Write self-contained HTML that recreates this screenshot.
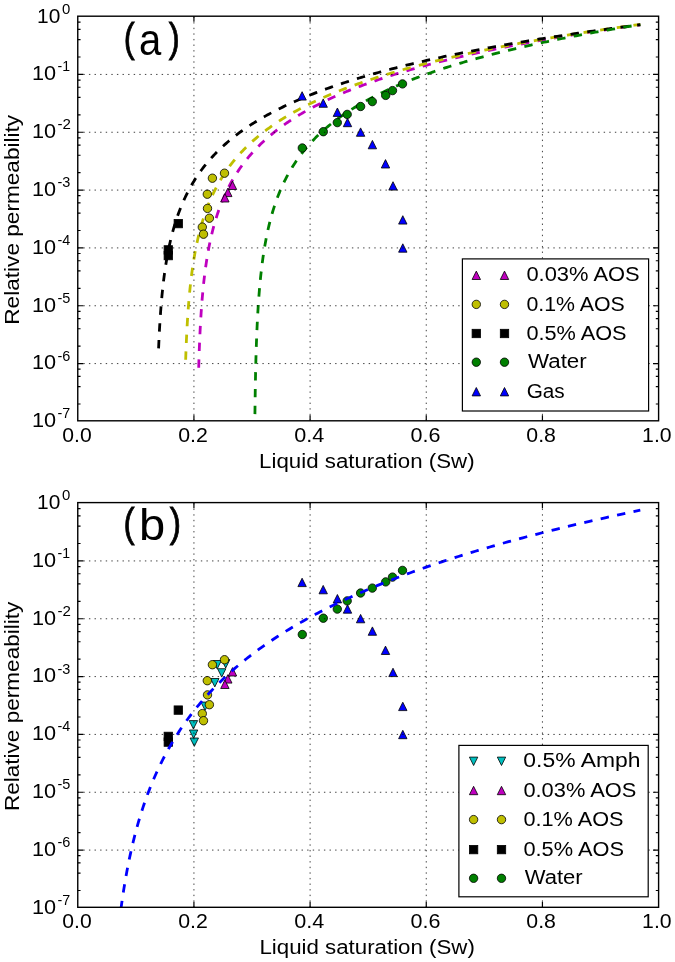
<!DOCTYPE html>
<html><head><meta charset="utf-8"><style>
html,body{margin:0;padding:0;background:#fff;width:675px;height:962px;overflow:hidden}
svg{display:block;will-change:transform;filter:blur(0.35px)}
text{font-family:"Liberation Sans",sans-serif;fill:#000}
</style></head><body>
<svg width="675" height="962" viewBox="0 0 675 962">
<rect width="675" height="962" fill="#fff"/>
<defs><clipPath id="ca"><rect x="77.76" y="16.2" width="580.84" height="404.6"/></clipPath><clipPath id="cb"><rect x="77.76" y="502.6" width="580.84" height="404.7"/></clipPath></defs>
<g clip-path="url(#ca)">
<path d="M198.72,367.8 L198.72,367.62 L198.73,367.08 L198.76,366.19 L198.79,364.96 L198.84,363.42 L198.89,361.59 L198.96,359.5 L199.03,357.16 L199.12,354.62 L199.21,351.9 L199.31,349.02 L199.43,346.02 L199.55,342.92 L199.68,339.73 L199.83,336.49 L199.98,333.2 L200.14,329.88 L200.32,326.54 L200.5,323.2 L200.69,319.87 L200.89,316.55 L201.11,313.25 L201.33,309.97 L201.56,306.73 L201.8,303.52 L202.05,300.35 L202.32,297.22 L202.59,294.13 L202.87,291.09 L203.16,288.09 L203.46,285.13 L203.77,282.22 L204.09,279.36 L204.43,276.54 L204.77,273.76 L205.12,271.03 L205.48,268.35 L205.85,265.7 L206.23,263.1 L206.62,260.54 L207.02,258.03 L207.43,255.55 L207.85,253.12 L208.28,250.72 L208.72,248.36 L209.17,246.03 L209.63,243.75 L210.1,241.5 L210.57,239.28 L211.06,237.1 L211.56,234.95 L212.07,232.83 L212.59,230.75 L213.12,228.69 L213.66,226.66 L214.21,224.67 L214.76,222.7 L215.33,220.76 L215.91,218.85 L216.5,216.96 L217.09,215.1 L217.7,213.27 L218.32,211.45 L218.95,209.67 L219.58,207.91 L220.23,206.17 L220.89,204.45 L221.55,202.75 L222.23,201.08 L222.92,199.42 L223.61,197.79 L224.32,196.18 L225.04,194.58 L225.76,193.01 L226.5,191.45 L227.25,189.92 L228,188.4 L228.77,186.89 L229.54,185.41 L230.33,183.94 L231.12,182.49 L231.93,181.05 L232.74,179.63 L233.57,178.23 L234.4,176.84 L235.25,175.47 L236.1,174.11 L236.97,172.76 L237.84,171.43 L238.72,170.11 L239.62,168.8 L240.52,167.51 L241.44,166.23 L242.36,164.97 L243.29,163.71 L244.24,162.47 L245.19,161.24 L246.15,160.02 L247.13,158.82 L248.11,157.62 L249.1,156.44 L250.1,155.27 L251.12,154.1 L252.14,152.95 L253.17,151.81 L254.21,150.68 L255.27,149.56 L256.33,148.45 L257.4,147.34 L258.48,146.25 L259.57,145.17 L260.68,144.1 L261.79,143.03 L262.91,141.98 L264.04,140.93 L265.18,139.89 L266.33,138.86 L267.49,137.84 L268.66,136.82 L269.84,135.82 L271.03,134.82 L272.23,133.83 L273.44,132.85 L274.66,131.88 L275.89,130.91 L277.13,129.95 L278.38,129 L279.64,128.05 L280.91,127.12 L282.19,126.19 L283.48,125.26 L284.78,124.34 L286.09,123.43 L287.41,122.53 L288.74,121.63 L290.07,120.74 L291.42,119.86 L292.78,118.98 L294.15,118.11 L295.53,117.24 L296.92,116.38 L298.31,115.52 L299.72,114.67 L301.14,113.83 L302.57,112.99 L304,112.16 L305.45,111.34 L306.91,110.51 L308.37,109.7 L309.85,108.89 L311.34,108.08 L312.84,107.28 L314.34,106.49 L315.86,105.7 L317.38,104.91 L318.92,104.13 L320.47,103.36 L322.02,102.59 L323.59,101.82 L325.16,101.06 L326.75,100.31 L328.35,99.55 L329.95,98.81 L331.57,98.06 L333.19,97.33 L334.83,96.59 L336.47,95.86 L338.13,95.14 L339.79,94.42 L341.46,93.7 L343.15,92.99 L344.84,92.28 L346.55,91.57 L348.26,90.87 L349.98,90.17 L351.72,89.48 L353.46,88.79 L355.22,88.11 L356.98,87.42 L358.75,86.75 L360.54,86.07 L362.33,85.4 L364.13,84.73 L365.94,84.07 L367.77,83.41 L369.6,82.75 L371.44,82.1 L373.29,81.45 L375.16,80.81 L377.03,80.16 L378.91,79.52 L380.8,78.89 L382.7,78.25 L384.61,77.62 L386.54,77 L388.47,76.37 L390.41,75.75 L392.36,75.14 L394.32,74.52 L396.29,73.91 L398.27,73.3 L400.26,72.7 L402.26,72.09 L404.27,71.49 L406.29,70.9 L408.32,70.3 L410.36,69.71 L412.41,69.13 L414.47,68.54 L416.54,67.96 L418.62,67.38 L420.71,66.8 L422.81,66.23 L424.92,65.65 L427.04,65.09 L429.17,64.52 L431.31,63.96 L433.46,63.39 L435.61,62.84 L437.78,62.28 L439.96,61.72 L442.15,61.17 L444.35,60.62 L446.56,60.08 L448.77,59.53 L451,58.99 L453.24,58.45 L455.49,57.92 L457.74,57.38 L460.01,56.85 L462.29,56.32 L464.57,55.79 L466.87,55.26 L469.18,54.74 L471.49,54.22 L473.82,53.7 L476.16,53.18 L478.5,52.67 L480.86,52.16 L483.23,51.65 L485.6,51.14 L487.99,50.63 L490.38,50.13 L492.79,49.63 L495.2,49.13 L497.63,48.63 L500.06,48.13 L502.51,47.64 L504.96,47.14 L507.43,46.65 L509.9,46.17 L512.39,45.68 L514.88,45.2 L517.39,44.71 L519.9,44.23 L522.42,43.75 L524.96,43.28 L527.5,42.8 L530.06,42.33 L532.62,41.86 L535.19,41.39 L537.78,40.92 L540.37,40.45 L542.97,39.99 L545.59,39.52 L548.21,39.06 L550.84,38.6 L553.48,38.15 L556.14,37.69 L558.8,37.24 L561.47,36.78 L564.15,36.33 L566.84,35.88 L569.55,35.44 L572.26,34.99 L574.98,34.55 L577.71,34.1 L580.45,33.66 L583.2,33.22 L585.97,32.78 L588.74,32.35 L591.52,31.91 L594.31,31.48 L597.11,31.05 L599.92,30.62 L602.74,30.19 L605.57,29.76 L608.41,29.33 L611.26,28.91 L614.12,28.49 L616.99,28.07 L619.87,27.65 L622.76,27.23 L625.66,26.81 L628.57,26.39 L631.49,25.98 L634.42,25.57 L637.35,25.15 L640.3,24.74" fill="none" stroke="#bf00bf" stroke-width="2.8" stroke-dasharray="8.4 8.4"/>
<path d="M185.67,359.8 L185.67,359.64 L185.69,359.18 L185.71,358.4 L185.75,357.34 L185.8,356 L185.85,354.4 L185.92,352.56 L185.99,350.5 L186.08,348.25 L186.18,345.83 L186.28,343.25 L186.4,340.56 L186.53,337.75 L186.67,334.86 L186.81,331.89 L186.97,328.87 L187.14,325.81 L187.32,322.73 L187.5,319.62 L187.7,316.51 L187.91,313.4 L188.13,310.3 L188.36,307.21 L188.6,304.14 L188.85,301.09 L189.11,298.08 L189.38,295.09 L189.66,292.14 L189.95,289.22 L190.25,286.33 L190.56,283.49 L190.88,280.68 L191.21,277.91 L191.55,275.18 L191.9,272.49 L192.26,269.84 L192.63,267.22 L193.01,264.65 L193.4,262.11 L193.81,259.62 L194.22,257.16 L194.64,254.73 L195.07,252.35 L195.51,250 L195.97,247.68 L196.43,245.4 L196.9,243.15 L197.39,240.94 L197.88,238.75 L198.38,236.6 L198.9,234.48 L199.42,232.39 L199.95,230.33 L200.5,228.3 L201.05,226.3 L201.62,224.33 L202.19,222.38 L202.78,220.46 L203.37,218.57 L203.98,216.7 L204.59,214.85 L205.22,213.03 L205.85,211.24 L206.5,209.46 L207.15,207.71 L207.82,205.99 L208.5,204.28 L209.18,202.59 L209.88,200.93 L210.59,199.29 L211.3,197.66 L212.03,196.06 L212.77,194.47 L213.52,192.91 L214.27,191.36 L215.04,189.83 L215.82,188.31 L216.61,186.82 L217.41,185.34 L218.21,183.87 L219.03,182.43 L219.86,180.99 L220.7,179.58 L221.55,178.18 L222.41,176.79 L223.28,175.42 L224.16,174.06 L225.05,172.72 L225.95,171.39 L226.86,170.07 L227.78,168.77 L228.71,167.48 L229.65,166.2 L230.6,164.94 L231.56,163.69 L232.54,162.45 L233.52,161.22 L234.51,160 L235.51,158.8 L236.52,157.6 L237.54,156.42 L238.58,155.25 L239.62,154.08 L240.67,152.93 L241.73,151.79 L242.81,150.66 L243.89,149.54 L244.98,148.43 L246.09,147.32 L247.2,146.23 L248.33,145.15 L249.46,144.07 L250.6,143.01 L251.76,141.95 L252.92,140.9 L254.1,139.86 L255.28,138.83 L256.48,137.81 L257.68,136.8 L258.9,135.79 L260.12,134.79 L261.36,133.8 L262.6,132.82 L263.86,131.84 L265.13,130.88 L266.4,129.91 L267.69,128.96 L268.99,128.01 L270.29,127.08 L271.61,126.14 L272.94,125.22 L274.28,124.3 L275.62,123.39 L276.98,122.48 L278.35,121.58 L279.73,120.69 L281.12,119.8 L282.51,118.92 L283.92,118.05 L285.34,117.18 L286.77,116.32 L288.21,115.46 L289.66,114.61 L291.12,113.76 L292.59,112.93 L294.07,112.09 L295.56,111.26 L297.06,110.44 L298.57,109.62 L300.09,108.81 L301.62,108 L303.16,107.2 L304.71,106.4 L306.27,105.61 L307.84,104.83 L309.43,104.04 L311.02,103.27 L312.62,102.49 L314.23,101.73 L315.85,100.96 L317.49,100.21 L319.13,99.45 L320.78,98.7 L322.44,97.96 L324.12,97.22 L325.8,96.48 L327.49,95.75 L329.2,95.02 L330.91,94.3 L332.64,93.58 L334.37,92.86 L336.11,92.15 L337.87,91.45 L339.63,90.74 L341.41,90.04 L343.19,89.35 L344.99,88.66 L346.79,87.97 L348.61,87.29 L350.43,86.61 L352.27,85.93 L354.12,85.26 L355.97,84.59 L357.84,83.92 L359.71,83.26 L361.6,82.6 L363.5,81.95 L365.41,81.29 L367.32,80.65 L369.25,80 L371.19,79.36 L373.13,78.72 L375.09,78.09 L377.06,77.45 L379.04,76.82 L381.03,76.2 L383.03,75.58 L385.03,74.96 L387.05,74.34 L389.08,73.73 L391.12,73.12 L393.17,72.51 L395.23,71.9 L397.3,71.3 L399.38,70.7 L401.47,70.11 L403.57,69.52 L405.68,68.93 L407.8,68.34 L409.93,67.75 L412.07,67.17 L414.22,66.59 L416.39,66.02 L418.56,65.44 L420.74,64.87 L422.93,64.3 L425.13,63.74 L427.34,63.17 L429.57,62.61 L431.8,62.05 L434.04,61.5 L436.29,60.94 L438.56,60.39 L440.83,59.84 L443.11,59.3 L445.41,58.75 L447.71,58.21 L450.03,57.67 L452.35,57.14 L454.68,56.6 L457.03,56.07 L459.38,55.54 L461.75,55.01 L464.12,54.49 L466.51,53.96 L468.9,53.44 L471.31,52.92 L473.72,52.41 L476.15,51.89 L478.58,51.38 L481.03,50.87 L483.49,50.36 L485.95,49.86 L488.43,49.35 L490.92,48.85 L493.41,48.35 L495.92,47.85 L498.44,47.36 L500.97,46.86 L503.5,46.37 L506.05,45.88 L508.61,45.39 L511.18,44.9 L513.75,44.42 L516.34,43.94 L518.94,43.46 L521.55,42.98 L524.17,42.5 L526.8,42.03 L529.44,41.55 L532.09,41.08 L534.75,40.61 L537.42,40.14 L540.1,39.68 L542.79,39.21 L545.49,38.75 L548.2,38.29 L550.92,37.83 L553.65,37.37 L556.39,36.91 L559.14,36.46 L561.9,36.01 L564.67,35.56 L567.46,35.11 L570.25,34.66 L573.05,34.21 L575.86,33.77 L578.68,33.32 L581.52,32.88 L584.36,32.44 L587.21,32 L590.08,31.57 L592.95,31.13 L595.83,30.7 L598.73,30.27 L601.63,29.84 L604.54,29.41 L607.47,28.98 L610.4,28.55 L613.35,28.13 L616.3,27.7 L619.27,27.28 L622.24,26.86 L625.23,26.44 L628.22,26.02 L631.23,25.61 L634.24,25.19 L637.27,24.78 L640.3,24.37" fill="none" stroke="#bfbf00" stroke-width="2.8" stroke-dasharray="8.4 8.4"/>
<path d="M158.59,348.4 L158.6,348.27 L158.61,347.87 L158.64,347.21 L158.68,346.3 L158.73,345.15 L158.79,343.78 L158.86,342.19 L158.94,340.41 L159.03,338.45 L159.13,336.33 L159.25,334.07 L159.37,331.69 L159.5,329.2 L159.65,326.62 L159.81,323.96 L159.97,321.25 L160.15,318.48 L160.34,315.68 L160.54,312.85 L160.75,310 L160.97,307.14 L161.2,304.28 L161.44,301.43 L161.7,298.58 L161.96,295.74 L162.24,292.92 L162.52,290.12 L162.82,287.35 L163.12,284.6 L163.44,281.88 L163.77,279.19 L164.11,276.52 L164.46,273.89 L164.82,271.3 L165.19,268.73 L165.58,266.2 L165.97,263.7 L166.37,261.23 L166.79,258.8 L167.21,256.4 L167.65,254.03 L168.1,251.7 L168.56,249.4 L169.02,247.13 L169.5,244.89 L169.99,242.68 L170.5,240.51 L171.01,238.36 L171.53,236.25 L172.06,234.16 L172.61,232.1 L173.16,230.07 L173.73,228.07 L174.31,226.09 L174.89,224.14 L175.49,222.22 L176.1,220.32 L176.72,218.44 L177.35,216.59 L177.99,214.77 L178.64,212.97 L179.31,211.19 L179.98,209.43 L180.66,207.7 L181.36,205.98 L182.06,204.29 L182.78,202.62 L183.51,200.97 L184.25,199.34 L185,197.72 L185.76,196.13 L186.53,194.56 L187.31,193 L188.1,191.46 L188.9,189.94 L189.72,188.44 L190.54,186.95 L191.38,185.48 L192.22,184.02 L193.08,182.58 L193.95,181.16 L194.82,179.75 L195.71,178.36 L196.61,176.98 L197.52,175.62 L198.44,174.27 L199.38,172.93 L200.32,171.61 L201.27,170.3 L202.24,169 L203.21,167.72 L204.2,166.44 L205.2,165.19 L206.2,163.94 L207.22,162.7 L208.25,161.48 L209.29,160.27 L210.34,159.07 L211.4,157.88 L212.48,156.7 L213.56,155.53 L214.65,154.37 L215.76,153.23 L216.87,152.09 L218,150.96 L219.14,149.85 L220.28,148.74 L221.44,147.64 L222.61,146.55 L223.79,145.47 L224.98,144.4 L226.18,143.34 L227.4,142.29 L228.62,141.25 L229.85,140.21 L231.1,139.18 L232.35,138.16 L233.62,137.15 L234.9,136.15 L236.18,135.16 L237.48,134.17 L238.79,133.19 L240.11,132.22 L241.44,131.25 L242.78,130.3 L244.14,129.35 L245.5,128.4 L246.87,127.47 L248.26,126.54 L249.65,125.62 L251.06,124.7 L252.48,123.79 L253.91,122.89 L255.34,121.99 L256.79,121.1 L258.25,120.22 L259.72,119.34 L261.21,118.47 L262.7,117.6 L264.2,116.75 L265.72,115.89 L267.24,115.04 L268.78,114.2 L270.32,113.37 L271.88,112.53 L273.45,111.71 L275.03,110.89 L276.62,110.07 L278.22,109.26 L279.83,108.46 L281.45,107.66 L283.08,106.87 L284.73,106.08 L286.38,105.29 L288.04,104.51 L289.72,103.74 L291.41,102.97 L293.1,102.21 L294.81,101.44 L296.53,100.69 L298.26,99.94 L300,99.19 L301.75,98.45 L303.51,97.71 L305.29,96.98 L307.07,96.25 L308.86,95.52 L310.67,94.8 L312.49,94.09 L314.31,93.37 L316.15,92.66 L318,91.96 L319.86,91.26 L321.73,90.56 L323.61,89.87 L325.5,89.18 L327.4,88.5 L329.31,87.81 L331.24,87.14 L333.17,86.46 L335.12,85.79 L337.07,85.13 L339.04,84.46 L341.02,83.8 L343,83.15 L345,82.49 L347.01,81.84 L349.03,81.2 L351.07,80.56 L353.11,79.92 L355.16,79.28 L357.22,78.65 L359.3,78.02 L361.38,77.39 L363.48,76.77 L365.59,76.15 L367.7,75.53 L369.83,74.92 L371.97,74.3 L374.12,73.7 L376.28,73.09 L378.45,72.49 L380.64,71.89 L382.83,71.29 L385.03,70.7 L387.25,70.11 L389.47,69.52 L391.71,68.94 L393.96,68.35 L396.21,67.77 L398.48,67.2 L400.76,66.62 L403.05,66.05 L405.35,65.48 L407.66,64.92 L409.99,64.35 L412.32,63.79 L414.66,63.23 L417.02,62.68 L419.38,62.12 L421.76,61.57 L424.15,61.02 L426.54,60.48 L428.95,59.93 L431.37,59.39 L433.8,58.85 L436.24,58.31 L438.69,57.78 L441.16,57.25 L443.63,56.72 L446.11,56.19 L448.61,55.66 L451.11,55.14 L453.63,54.62 L456.16,54.1 L458.69,53.58 L461.24,53.07 L463.8,52.56 L466.37,52.04 L468.95,51.54 L471.55,51.03 L474.15,50.53 L476.76,50.02 L479.39,49.52 L482.02,49.03 L484.67,48.53 L487.32,48.04 L489.99,47.54 L492.67,47.05 L495.36,46.56 L498.06,46.08 L500.77,45.59 L503.49,45.11 L506.22,44.63 L508.96,44.15 L511.71,43.68 L514.48,43.2 L517.25,42.73 L520.04,42.26 L522.84,41.79 L525.64,41.32 L528.46,40.85 L531.29,40.39 L534.13,39.92 L536.98,39.46 L539.84,39 L542.71,38.55 L545.6,38.09 L548.49,37.64 L551.39,37.18 L554.31,36.73 L557.23,36.28 L560.17,35.84 L563.12,35.39 L566.08,34.95 L569.04,34.5 L572.02,34.06 L575.01,33.62 L578.02,33.19 L581.03,32.75 L584.05,32.31 L587.08,31.88 L590.13,31.45 L593.18,31.02 L596.25,30.59 L599.33,30.16 L602.41,29.74 L605.51,29.31 L608.62,28.89 L611.74,28.47 L614.87,28.05 L618.01,27.63 L621.16,27.21 L624.33,26.79 L627.5,26.38 L630.69,25.97 L633.88,25.56 L637.09,25.14 L640.3,24.74" fill="none" stroke="#000000" stroke-width="2.8" stroke-dasharray="8.4 8.4"/>
<path d="M254.93,414.1 L254.94,413.71 L254.95,412.57 L254.97,410.72 L255,408.21 L255.04,405.12 L255.09,401.56 L255.15,397.59 L255.21,393.31 L255.28,388.79 L255.37,384.11 L255.46,379.32 L255.55,374.46 L255.66,369.59 L255.78,364.73 L255.9,359.9 L256.04,355.12 L256.18,350.42 L256.33,345.79 L256.49,341.26 L256.66,336.81 L256.84,332.46 L257.02,328.2 L257.21,324.04 L257.42,319.98 L257.63,316.01 L257.85,312.13 L258.08,308.35 L258.31,304.65 L258.56,301.04 L258.81,297.52 L259.08,294.08 L259.35,290.71 L259.63,287.42 L259.92,284.2 L260.21,281.06 L260.52,277.98 L260.84,274.97 L261.16,272.03 L261.49,269.14 L261.83,266.31 L262.18,263.55 L262.54,260.83 L262.9,258.17 L263.28,255.56 L263.66,253 L264.06,250.49 L264.46,248.03 L264.87,245.61 L265.28,243.24 L265.71,240.9 L266.15,238.61 L266.59,236.36 L267.04,234.14 L267.5,231.96 L267.97,229.82 L268.45,227.71 L268.94,225.64 L269.43,223.6 L269.94,221.59 L270.45,219.61 L270.97,217.66 L271.5,215.74 L272.04,213.85 L272.59,211.99 L273.15,210.15 L273.71,208.34 L274.28,206.55 L274.87,204.79 L275.46,203.06 L276.06,201.34 L276.66,199.65 L277.28,197.98 L277.91,196.34 L278.54,194.71 L279.18,193.11 L279.83,191.52 L280.49,189.96 L281.16,188.41 L281.84,186.88 L282.52,185.37 L283.22,183.88 L283.92,182.41 L284.63,180.95 L285.35,179.51 L286.08,178.09 L286.82,176.68 L287.56,175.29 L288.32,173.91 L289.08,172.55 L289.85,171.2 L290.63,169.87 L291.42,168.55 L292.22,167.24 L293.02,165.95 L293.84,164.67 L294.66,163.4 L295.49,162.15 L296.33,160.91 L297.18,159.68 L298.04,158.46 L298.91,157.26 L299.78,156.07 L300.66,154.88 L301.56,153.71 L302.46,152.55 L303.37,151.4 L304.29,150.26 L305.21,149.14 L306.15,148.02 L307.09,146.91 L308.04,145.81 L309.01,144.72 L309.98,143.64 L310.95,142.57 L311.94,141.51 L312.94,140.46 L313.94,139.41 L314.95,138.38 L315.98,137.35 L317.01,136.33 L318.05,135.32 L319.09,134.32 L320.15,133.33 L321.21,132.34 L322.29,131.36 L323.37,130.39 L324.46,129.43 L325.56,128.48 L326.67,127.53 L327.78,126.59 L328.91,125.65 L330.04,124.73 L331.18,123.81 L332.33,122.89 L333.49,121.99 L334.66,121.09 L335.84,120.19 L337.02,119.31 L338.22,118.42 L339.42,117.55 L340.63,116.68 L341.85,115.82 L343.08,114.96 L344.32,114.11 L345.56,113.27 L346.82,112.43 L348.08,111.59 L349.35,110.77 L350.63,109.94 L351.92,109.13 L353.22,108.32 L354.53,107.51 L355.84,106.71 L357.16,105.91 L358.5,105.12 L359.84,104.34 L361.19,103.55 L362.54,102.78 L363.91,102.01 L365.28,101.24 L366.67,100.48 L368.06,99.72 L369.46,98.97 L370.87,98.22 L372.29,97.48 L373.72,96.74 L375.15,96 L376.6,95.27 L378.05,94.55 L379.51,93.83 L380.98,93.11 L382.46,92.4 L383.95,91.69 L385.44,90.98 L386.95,90.28 L388.46,89.58 L389.98,88.89 L391.51,88.2 L393.05,87.51 L394.6,86.83 L396.15,86.15 L397.72,85.48 L399.29,84.81 L400.87,84.14 L402.46,83.48 L404.06,82.82 L405.67,82.16 L407.29,81.51 L408.91,80.86 L410.55,80.21 L412.19,79.57 L413.84,78.93 L415.5,78.29 L417.17,77.66 L418.84,77.03 L420.53,76.4 L422.22,75.78 L423.93,75.16 L425.64,74.54 L427.36,73.93 L429.09,73.32 L430.82,72.71 L432.57,72.11 L434.32,71.5 L436.09,70.9 L437.86,70.31 L439.64,69.71 L441.43,69.12 L443.22,68.54 L445.03,67.95 L446.85,67.37 L448.67,66.79 L450.5,66.21 L452.34,65.64 L454.19,65.07 L456.05,64.5 L457.91,63.93 L459.79,63.37 L461.67,62.81 L463.57,62.25 L465.47,61.69 L467.38,61.14 L469.29,60.59 L471.22,60.04 L473.16,59.49 L475.1,58.95 L477.05,58.41 L479.01,57.87 L480.98,57.33 L482.96,56.8 L484.95,56.27 L486.95,55.74 L488.95,55.21 L490.96,54.68 L492.99,54.16 L495.02,53.64 L497.05,53.12 L499.1,52.6 L501.16,52.09 L503.22,51.58 L505.3,51.07 L507.38,50.56 L509.47,50.05 L511.57,49.55 L513.68,49.05 L515.79,48.55 L517.92,48.05 L520.05,47.55 L522.19,47.06 L524.34,46.57 L526.5,46.08 L528.67,45.59 L530.85,45.11 L533.03,44.62 L535.23,44.14 L537.43,43.66 L539.64,43.18 L541.86,42.7 L544.09,42.23 L546.33,41.76 L548.57,41.29 L550.83,40.82 L553.09,40.35 L555.36,39.88 L557.64,39.42 L559.93,38.96 L562.23,38.5 L564.54,38.04 L566.85,37.58 L569.17,37.12 L571.51,36.67 L573.85,36.22 L576.2,35.77 L578.55,35.32 L580.92,34.87 L583.3,34.43 L585.68,33.98 L588.07,33.54 L590.47,33.1 L592.88,32.66 L595.3,32.22 L597.73,31.79 L600.16,31.35 L602.61,30.92 L605.06,30.49 L607.52,30.06 L609.99,29.63 L612.47,29.2 L614.96,28.78 L617.45,28.35 L619.96,27.93 L622.47,27.51 L624.99,27.09 L627.52,26.67 L630.06,26.25 L632.61,25.84 L635.17,25.42 L637.73,25.01 L640.3,24.6" fill="none" stroke="#008000" stroke-width="2.8" stroke-dasharray="8.4 8.4"/>
<g stroke="#000" stroke-width="0.8">
<path d="M232.5,181.1 L228.3,189.5 L236.7,189.5 Z" fill="#bf00bf"/>
<path d="M227.8,188.2 L223.6,196.6 L232,196.6 Z" fill="#bf00bf"/>
<path d="M224.9,193.6 L220.7,202 L229.1,202 Z" fill="#bf00bf"/>
<circle cx="212.4" cy="178.2" r="4.2" fill="#bfbf00"/>
<circle cx="224.5" cy="173.2" r="4.2" fill="#bfbf00"/>
<circle cx="207.3" cy="194.2" r="4.2" fill="#bfbf00"/>
<circle cx="207.5" cy="208.4" r="4.2" fill="#bfbf00"/>
<circle cx="209.4" cy="218.2" r="4.2" fill="#bfbf00"/>
<circle cx="202.3" cy="227.1" r="4.2" fill="#bfbf00"/>
<circle cx="203.5" cy="234.2" r="4.2" fill="#bfbf00"/>
<rect x="174.1" y="219.4" width="8.4" height="8.4" fill="#000000"/>
<rect x="164.1" y="245.7" width="8.4" height="8.4" fill="#000000"/>
<rect x="164.1" y="251.4" width="8.4" height="8.4" fill="#000000"/>
<circle cx="302.3" cy="148" r="4.2" fill="#008000"/>
<circle cx="323.3" cy="131.7" r="4.2" fill="#008000"/>
<circle cx="337.3" cy="122.6" r="4.2" fill="#008000"/>
<circle cx="347.2" cy="114.4" r="4.2" fill="#008000"/>
<circle cx="360.6" cy="106.5" r="4.2" fill="#008000"/>
<circle cx="372.3" cy="101.6" r="4.2" fill="#008000"/>
<circle cx="385.7" cy="95.4" r="4.2" fill="#008000"/>
<circle cx="392.5" cy="90.6" r="4.2" fill="#008000"/>
<circle cx="402.5" cy="83.9" r="4.2" fill="#008000"/>
<path d="M302.1,91.7 L297.9,100.1 L306.3,100.1 Z" fill="#0000ff"/>
<path d="M323.2,98.9 L319,107.3 L327.4,107.3 Z" fill="#0000ff"/>
<path d="M337.4,108 L333.2,116.4 L341.6,116.4 Z" fill="#0000ff"/>
<path d="M347.5,118.3 L343.3,126.7 L351.7,126.7 Z" fill="#0000ff"/>
<path d="M360.6,127.9 L356.4,136.3 L364.8,136.3 Z" fill="#0000ff"/>
<path d="M372.4,140.4 L368.2,148.8 L376.6,148.8 Z" fill="#0000ff"/>
<path d="M385.5,159.6 L381.3,168 L389.7,168 Z" fill="#0000ff"/>
<path d="M393,181.7 L388.8,190.1 L397.2,190.1 Z" fill="#0000ff"/>
<path d="M402.8,215.7 L398.6,224.1 L407,224.1 Z" fill="#0000ff"/>
<path d="M402.8,243.8 L398.6,252.2 L407,252.2 Z" fill="#0000ff"/>
</g>
</g>
<path d="M77.76,74.43 H658.6 M77.76,132.26 H658.6 M77.76,190.09 H658.6 M77.76,247.92 H658.6 M77.76,305.75 H658.6 M77.76,363.58 H658.6 M193.93,420.8 V16.2 M310.1,420.8 V16.2 M426.26,420.8 V16.2 M542.43,420.8 V16.2" stroke="#000" stroke-width="1" stroke-dasharray="1.4 4.195" fill="none" opacity="0.75"/>
<path d="M77.76,22.2 h2.8 M658.6,22.2 h-2.8 M77.76,29.43 h2.8 M658.6,29.43 h-2.8 M77.76,39.61 h2.8 M658.6,39.61 h-2.8 M77.76,57.02 h2.8 M658.6,57.02 h-2.8 M77.76,74.43 h5.6 M658.6,74.43 h-5.6 M77.76,80.03 h2.8 M658.6,80.03 h-2.8 M77.76,87.26 h2.8 M658.6,87.26 h-2.8 M77.76,97.44 h2.8 M658.6,97.44 h-2.8 M77.76,114.85 h2.8 M658.6,114.85 h-2.8 M77.76,132.26 h5.6 M658.6,132.26 h-5.6 M77.76,137.86 h2.8 M658.6,137.86 h-2.8 M77.76,145.09 h2.8 M658.6,145.09 h-2.8 M77.76,155.27 h2.8 M658.6,155.27 h-2.8 M77.76,172.68 h2.8 M658.6,172.68 h-2.8 M77.76,190.09 h5.6 M658.6,190.09 h-5.6 M77.76,195.69 h2.8 M658.6,195.69 h-2.8 M77.76,202.92 h2.8 M658.6,202.92 h-2.8 M77.76,213.1 h2.8 M658.6,213.1 h-2.8 M77.76,230.51 h2.8 M658.6,230.51 h-2.8 M77.76,247.92 h5.6 M658.6,247.92 h-5.6 M77.76,253.52 h2.8 M658.6,253.52 h-2.8 M77.76,260.75 h2.8 M658.6,260.75 h-2.8 M77.76,270.93 h2.8 M658.6,270.93 h-2.8 M77.76,288.34 h2.8 M658.6,288.34 h-2.8 M77.76,305.75 h5.6 M658.6,305.75 h-5.6 M77.76,311.35 h2.8 M658.6,311.35 h-2.8 M77.76,318.58 h2.8 M658.6,318.58 h-2.8 M77.76,328.76 h2.8 M658.6,328.76 h-2.8 M77.76,346.17 h2.8 M658.6,346.17 h-2.8 M77.76,363.58 h5.6 M658.6,363.58 h-5.6 M77.76,369.18 h2.8 M658.6,369.18 h-2.8 M77.76,376.41 h2.8 M658.6,376.41 h-2.8 M77.76,386.59 h2.8 M658.6,386.59 h-2.8 M77.76,404 h2.8 M658.6,404 h-2.8 M193.93,420.8 v-5.6 M193.93,16.2 v5.6 M310.1,420.8 v-5.6 M310.1,16.2 v5.6 M426.26,420.8 v-5.6 M426.26,16.2 v5.6 M542.43,420.8 v-5.6 M542.43,16.2 v5.6" stroke="#000" stroke-width="1.2" fill="none"/>
<rect x="77.76" y="16.2" width="580.84" height="404.6" fill="none" stroke="#000" stroke-width="1.4"/>
<text x="37.13" y="22.5" font-size="19.5" textLength="23.25" lengthAdjust="spacingAndGlyphs">10</text>
<text x="61.9" y="13.75" font-size="14" textLength="8.31" lengthAdjust="spacingAndGlyphs">0</text>
<text x="32.07" y="80.33" font-size="19.5" textLength="24.14" lengthAdjust="spacingAndGlyphs">10</text>
<text x="57.57" y="71.43" font-size="14" textLength="12.53" lengthAdjust="spacingAndGlyphs">-1</text>
<text x="32.07" y="138.16" font-size="19.5" textLength="24.14" lengthAdjust="spacingAndGlyphs">10</text>
<text x="57.52" y="129.26" font-size="14" textLength="13.42" lengthAdjust="spacingAndGlyphs">-2</text>
<text x="32.07" y="195.99" font-size="19.5" textLength="24.14" lengthAdjust="spacingAndGlyphs">10</text>
<text x="57.55" y="187.09" font-size="14" textLength="12.89" lengthAdjust="spacingAndGlyphs">-3</text>
<text x="32.07" y="253.82" font-size="19.5" textLength="24.14" lengthAdjust="spacingAndGlyphs">10</text>
<text x="57.55" y="244.92" font-size="14" textLength="12.77" lengthAdjust="spacingAndGlyphs">-4</text>
<text x="32.07" y="311.65" font-size="19.5" textLength="24.14" lengthAdjust="spacingAndGlyphs">10</text>
<text x="57.55" y="302.75" font-size="14" textLength="12.89" lengthAdjust="spacingAndGlyphs">-5</text>
<text x="32.07" y="369.48" font-size="19.5" textLength="24.14" lengthAdjust="spacingAndGlyphs">10</text>
<text x="57.55" y="360.58" font-size="14" textLength="12.89" lengthAdjust="spacingAndGlyphs">-6</text>
<text x="32.07" y="427.31" font-size="19.5" textLength="24.14" lengthAdjust="spacingAndGlyphs">10</text>
<text x="57.55" y="418.41" font-size="14" textLength="12.75" lengthAdjust="spacingAndGlyphs">-7</text>
<text x="62.25" y="441.7" font-size="19.5" textLength="29.39" lengthAdjust="spacingAndGlyphs">0.0</text>
<text x="178.15" y="441.7" font-size="19.5" textLength="29.62" lengthAdjust="spacingAndGlyphs">0.2</text>
<text x="294.24" y="441.7" font-size="19.5" textLength="30.01" lengthAdjust="spacingAndGlyphs">0.4</text>
<text x="410.44" y="441.7" font-size="19.5" textLength="29.93" lengthAdjust="spacingAndGlyphs">0.6</text>
<text x="526.35" y="441.7" font-size="19.5" textLength="29.61" lengthAdjust="spacingAndGlyphs">0.8</text>
<text x="642.11" y="441.7" font-size="19.5" textLength="29.55" lengthAdjust="spacingAndGlyphs">1.0</text>
<text x="259.12" y="467.5" font-size="19.5" textLength="215.45" lengthAdjust="spacingAndGlyphs">Liquid saturation (Sw)</text>
<text transform="translate(18.6,324.71) rotate(-90)" x="0" y="0" font-size="19.5" textLength="209.86" lengthAdjust="spacingAndGlyphs">Relative permeability</text>
<text x="123.73" y="51.89" font-size="40.53" textLength="10.93" lengthAdjust="spacingAndGlyphs" stroke="#000" stroke-width="0.8">(</text>
<text x="138.9" y="54.86" font-size="44.36" textLength="22.25" lengthAdjust="spacingAndGlyphs" stroke="#000" stroke-width="0.0">a</text>
<text x="168.67" y="51.81" font-size="40.43" textLength="11.02" lengthAdjust="spacingAndGlyphs" stroke="#000" stroke-width="0.8">)</text>
<rect x="462.4" y="258.9" width="186.2" height="152.1" fill="#fff" stroke="#000" stroke-width="1.2"/>
<g stroke="#000" stroke-width="0.8"><path d="M476.3,271.1 L472.1,279.5 L480.5,279.5 Z" fill="#bf00bf"/></g>
<g stroke="#000" stroke-width="0.8"><path d="M504.5,271.1 L500.3,279.5 L508.7,279.5 Z" fill="#bf00bf"/></g>
<text x="526.42" y="281.4" font-size="19.5" textLength="113.26" lengthAdjust="spacingAndGlyphs">0.03% AOS</text>
<g stroke="#000" stroke-width="0.8"><circle cx="476.3" cy="304.4" r="4.2" fill="#bfbf00"/></g>
<g stroke="#000" stroke-width="0.8"><circle cx="504.5" cy="304.4" r="4.2" fill="#bfbf00"/></g>
<text x="526.45" y="310.5" font-size="19.5" textLength="98.29" lengthAdjust="spacingAndGlyphs">0.1% AOS</text>
<g stroke="#000" stroke-width="0.8"><rect x="472.1" y="329.3" width="8.4" height="8.4" fill="#000000"/></g>
<g stroke="#000" stroke-width="0.8"><rect x="500.3" y="329.3" width="8.4" height="8.4" fill="#000000"/></g>
<text x="526.43" y="339.6" font-size="19.5" textLength="100.13" lengthAdjust="spacingAndGlyphs">0.5% AOS</text>
<g stroke="#000" stroke-width="0.8"><circle cx="476.3" cy="362.2" r="4.2" fill="#008000"/></g>
<g stroke="#000" stroke-width="0.8"><circle cx="504.5" cy="362.2" r="4.2" fill="#008000"/></g>
<text x="527.99" y="368.3" font-size="19.5" textLength="58.74" lengthAdjust="spacingAndGlyphs">Water</text>
<g stroke="#000" stroke-width="0.8"><path d="M476.3,387.5 L472.1,395.9 L480.5,395.9 Z" fill="#0000ff"/></g>
<g stroke="#000" stroke-width="0.8"><path d="M504.5,387.5 L500.3,395.9 L508.7,395.9 Z" fill="#0000ff"/></g>
<text x="526.66" y="397.8" font-size="19.5" textLength="38.05" lengthAdjust="spacingAndGlyphs">Gas</text>
<g clip-path="url(#cb)">
<g stroke="#000" stroke-width="0.8">
<path d="M193.4,729 L189.2,720.6 L197.6,720.6 Z" fill="#00bfbf"/>
<path d="M193.6,738.4 L189.4,730 L197.8,730 Z" fill="#00bfbf"/>
<path d="M194.3,746.4 L190.1,738 L198.5,738 Z" fill="#00bfbf"/>
<path d="M214.8,686.9 L210.6,678.5 L219,678.5 Z" fill="#00bfbf"/>
<path d="M221.7,677.1 L217.5,668.7 L225.9,668.7 Z" fill="#00bfbf"/>
<path d="M217.2,668.9 L213,660.5 L221.4,660.5 Z" fill="#00bfbf"/>
<path d="M225.7,668 L221.5,659.6 L229.9,659.6 Z" fill="#00bfbf"/>
<path d="M205.1,710.5 L200.9,702.1 L209.3,702.1 Z" fill="#00bfbf"/>
<path d="M232.5,667.6 L228.3,676 L236.7,676 Z" fill="#bf00bf"/>
<path d="M227.8,674.7 L223.6,683.1 L232,683.1 Z" fill="#bf00bf"/>
<path d="M224.9,680.1 L220.7,688.5 L229.1,688.5 Z" fill="#bf00bf"/>
<circle cx="212.4" cy="664.7" r="4.2" fill="#bfbf00"/>
<circle cx="224.5" cy="659.7" r="4.2" fill="#bfbf00"/>
<circle cx="207.3" cy="680.7" r="4.2" fill="#bfbf00"/>
<circle cx="207.5" cy="694.9" r="4.2" fill="#bfbf00"/>
<circle cx="209.4" cy="704.7" r="4.2" fill="#bfbf00"/>
<circle cx="202.3" cy="713.6" r="4.2" fill="#bfbf00"/>
<circle cx="203.5" cy="720.7" r="4.2" fill="#bfbf00"/>
<rect x="174.1" y="705.9" width="8.4" height="8.4" fill="#000000"/>
<rect x="164.1" y="732.2" width="8.4" height="8.4" fill="#000000"/>
<rect x="164.1" y="737.9" width="8.4" height="8.4" fill="#000000"/>
<circle cx="302.3" cy="634.5" r="4.2" fill="#008000"/>
<circle cx="323.3" cy="618.2" r="4.2" fill="#008000"/>
<circle cx="337.3" cy="609.1" r="4.2" fill="#008000"/>
<circle cx="347.2" cy="600.9" r="4.2" fill="#008000"/>
<circle cx="360.6" cy="593" r="4.2" fill="#008000"/>
<circle cx="372.3" cy="588.1" r="4.2" fill="#008000"/>
<circle cx="385.7" cy="581.9" r="4.2" fill="#008000"/>
<circle cx="392.5" cy="577.1" r="4.2" fill="#008000"/>
<circle cx="402.5" cy="570.4" r="4.2" fill="#008000"/>
<path d="M302.1,578.2 L297.9,586.6 L306.3,586.6 Z" fill="#0000ff"/>
<path d="M323.2,585.4 L319,593.8 L327.4,593.8 Z" fill="#0000ff"/>
<path d="M337.4,594.5 L333.2,602.9 L341.6,602.9 Z" fill="#0000ff"/>
<path d="M347.5,604.8 L343.3,613.2 L351.7,613.2 Z" fill="#0000ff"/>
<path d="M360.6,614.4 L356.4,622.8 L364.8,622.8 Z" fill="#0000ff"/>
<path d="M372.4,626.9 L368.2,635.3 L376.6,635.3 Z" fill="#0000ff"/>
<path d="M385.5,646.1 L381.3,654.5 L389.7,654.5 Z" fill="#0000ff"/>
<path d="M393,668.2 L388.8,676.6 L397.2,676.6 Z" fill="#0000ff"/>
<path d="M402.8,702.2 L398.6,710.6 L407,710.6 Z" fill="#0000ff"/>
<path d="M402.8,730.3 L398.6,738.7 L407,738.7 Z" fill="#0000ff"/>
</g>
<path d="M120.91,909.2 L120.92,909.16 L120.94,909.02 L120.96,908.81 L121,908.5 L121.06,908.11 L121.12,907.63 L121.2,907.07 L121.28,906.43 L121.38,905.71 L121.49,904.9 L121.61,904.02 L121.75,903.06 L121.89,902.03 L122.05,900.93 L122.22,899.75 L122.4,898.51 L122.59,897.21 L122.79,895.84 L123.01,894.41 L123.24,892.92 L123.47,891.38 L123.72,889.79 L123.99,888.14 L124.26,886.45 L124.54,884.72 L124.84,882.94 L125.15,881.12 L125.47,879.26 L125.8,877.37 L126.14,875.45 L126.5,873.49 L126.86,871.51 L127.24,869.5 L127.63,867.46 L128.03,865.4 L128.44,863.32 L128.87,861.23 L129.3,859.11 L129.75,856.98 L130.21,854.84 L130.68,852.69 L131.16,850.52 L131.65,848.34 L132.16,846.16 L132.68,843.97 L133.21,841.78 L133.75,839.58 L134.3,837.37 L134.86,835.17 L135.44,832.96 L136.02,830.76 L136.62,828.55 L137.23,826.34 L137.85,824.14 L138.49,821.94 L139.13,819.75 L139.79,817.55 L140.46,815.37 L141.14,813.18 L141.83,811.01 L142.53,808.84 L143.24,806.67 L143.97,804.52 L144.71,802.37 L145.46,800.23 L146.22,798.1 L146.99,795.97 L147.78,793.86 L148.57,791.75 L149.38,789.65 L150.2,787.57 L151.03,785.49 L151.87,783.42 L152.73,781.36 L153.59,779.32 L154.47,777.28 L155.36,775.25 L156.26,773.23 L157.17,771.23 L158.09,769.23 L159.03,767.25 L159.98,765.28 L160.93,763.31 L161.91,761.36 L162.89,759.42 L163.88,757.49 L164.89,755.57 L165.9,753.66 L166.93,751.77 L167.97,749.88 L169.02,748.01 L170.09,746.14 L171.16,744.29 L172.25,742.45 L173.34,740.61 L174.45,738.79 L175.58,736.98 L176.71,735.18 L177.85,733.4 L179.01,731.62 L180.18,729.85 L181.36,728.09 L182.55,726.35 L183.75,724.61 L184.96,722.88 L186.19,721.17 L187.43,719.46 L188.68,717.77 L189.94,716.08 L191.21,714.41 L192.49,712.74 L193.79,711.09 L195.1,709.44 L196.41,707.8 L197.75,706.18 L199.09,704.56 L200.44,702.95 L201.81,701.36 L203.18,699.77 L204.57,698.19 L205.97,696.62 L207.38,695.06 L208.81,693.5 L210.24,691.96 L211.69,690.43 L213.15,688.9 L214.62,687.39 L216.1,685.88 L217.59,684.38 L219.1,682.89 L220.61,681.4 L222.14,679.93 L223.68,678.47 L225.23,677.01 L226.79,675.56 L228.37,674.12 L229.95,672.68 L231.55,671.26 L233.16,669.84 L234.78,668.43 L236.41,667.03 L238.06,665.64 L239.71,664.25 L241.38,662.87 L243.06,661.5 L244.75,660.14 L246.45,658.78 L248.17,657.43 L249.89,656.09 L251.63,654.75 L253.38,653.42 L255.14,652.1 L256.91,650.79 L258.69,649.48 L260.49,648.18 L262.3,646.89 L264.11,645.6 L265.94,644.32 L267.79,643.05 L269.64,641.78 L271.5,640.52 L273.38,639.27 L275.27,638.02 L277.17,636.78 L279.08,635.54 L281,634.31 L282.94,633.09 L284.88,631.87 L286.84,630.66 L288.81,629.46 L290.79,628.26 L292.79,627.07 L294.79,625.88 L296.81,624.7 L298.83,623.52 L300.87,622.35 L302.92,621.19 L304.99,620.03 L307.06,618.87 L309.15,617.73 L311.24,616.58 L313.35,615.45 L315.47,614.32 L317.6,613.19 L319.75,612.07 L321.9,610.95 L324.07,609.84 L326.25,608.74 L328.44,607.64 L330.64,606.54 L332.86,605.45 L335.08,604.36 L337.32,603.28 L339.57,602.21 L341.83,601.14 L344.1,600.07 L346.38,599.01 L348.67,597.95 L350.98,596.9 L353.3,595.85 L355.63,594.81 L357.97,593.77 L360.32,592.74 L362.69,591.71 L365.06,590.69 L367.45,589.67 L369.85,588.65 L372.26,587.64 L374.68,586.63 L377.12,585.63 L379.56,584.63 L382.02,583.64 L384.49,582.65 L386.97,581.66 L389.46,580.68 L391.97,579.7 L394.48,578.73 L397.01,577.76 L399.55,576.79 L402.1,575.83 L404.66,574.87 L407.24,573.92 L409.82,572.97 L412.42,572.02 L415.03,571.08 L417.65,570.14 L420.28,569.2 L422.92,568.27 L425.58,567.34 L428.24,566.42 L430.92,565.5 L433.61,564.58 L436.31,563.67 L439.03,562.76 L441.75,561.86 L444.49,560.95 L447.24,560.05 L450,559.16 L452.77,558.27 L455.55,557.38 L458.34,556.49 L461.15,555.61 L463.97,554.73 L466.8,553.86 L469.64,552.98 L472.49,552.12 L475.35,551.25 L478.23,550.39 L481.12,549.53 L484.02,548.67 L486.93,547.82 L489.85,546.97 L492.78,546.12 L495.73,545.28 L498.69,544.44 L501.66,543.6 L504.64,542.77 L507.63,541.94 L510.63,541.11 L513.65,540.28 L516.67,539.46 L519.71,538.64 L522.76,537.83 L525.82,537.01 L528.9,536.2 L531.98,535.39 L535.08,534.59 L538.19,533.79 L541.31,532.99 L544.44,532.19 L547.58,531.4 L550.74,530.6 L553.9,529.82 L557.08,529.03 L560.27,528.25 L563.47,527.47 L566.68,526.69 L569.91,525.91 L573.14,525.14 L576.39,524.37 L579.65,523.6 L582.92,522.84 L586.2,522.07 L589.5,521.31 L592.8,520.56 L596.12,519.8 L599.45,519.05 L602.79,518.3 L606.14,517.55 L609.51,516.81 L612.88,516.06 L616.27,515.32 L619.67,514.59 L623.08,513.85 L626.5,513.12 L629.93,512.39 L633.38,511.66 L636.84,510.93 L640.3,510.21" fill="none" stroke="#0000ff" stroke-width="2.8" stroke-dasharray="8.4 8.4"/>
</g>
<path d="M77.76,560.93 H658.6 M77.76,618.76 H658.6 M77.76,676.59 H658.6 M77.76,734.42 H658.6 M77.76,792.25 H658.6 M77.76,850.08 H658.6 M193.93,907.3 V502.6 M310.1,907.3 V502.6 M426.26,907.3 V502.6 M542.43,907.3 V502.6" stroke="#000" stroke-width="1" stroke-dasharray="1.4 4.195" fill="none" opacity="0.75"/>
<path d="M77.76,508.7 h2.8 M658.6,508.7 h-2.8 M77.76,515.93 h2.8 M658.6,515.93 h-2.8 M77.76,526.11 h2.8 M658.6,526.11 h-2.8 M77.76,543.52 h2.8 M658.6,543.52 h-2.8 M77.76,560.93 h5.6 M658.6,560.93 h-5.6 M77.76,566.53 h2.8 M658.6,566.53 h-2.8 M77.76,573.76 h2.8 M658.6,573.76 h-2.8 M77.76,583.94 h2.8 M658.6,583.94 h-2.8 M77.76,601.35 h2.8 M658.6,601.35 h-2.8 M77.76,618.76 h5.6 M658.6,618.76 h-5.6 M77.76,624.36 h2.8 M658.6,624.36 h-2.8 M77.76,631.59 h2.8 M658.6,631.59 h-2.8 M77.76,641.77 h2.8 M658.6,641.77 h-2.8 M77.76,659.18 h2.8 M658.6,659.18 h-2.8 M77.76,676.59 h5.6 M658.6,676.59 h-5.6 M77.76,682.19 h2.8 M658.6,682.19 h-2.8 M77.76,689.42 h2.8 M658.6,689.42 h-2.8 M77.76,699.6 h2.8 M658.6,699.6 h-2.8 M77.76,717.01 h2.8 M658.6,717.01 h-2.8 M77.76,734.42 h5.6 M658.6,734.42 h-5.6 M77.76,740.02 h2.8 M658.6,740.02 h-2.8 M77.76,747.25 h2.8 M658.6,747.25 h-2.8 M77.76,757.43 h2.8 M658.6,757.43 h-2.8 M77.76,774.84 h2.8 M658.6,774.84 h-2.8 M77.76,792.25 h5.6 M658.6,792.25 h-5.6 M77.76,797.85 h2.8 M658.6,797.85 h-2.8 M77.76,805.08 h2.8 M658.6,805.08 h-2.8 M77.76,815.26 h2.8 M658.6,815.26 h-2.8 M77.76,832.67 h2.8 M658.6,832.67 h-2.8 M77.76,850.08 h5.6 M658.6,850.08 h-5.6 M77.76,855.68 h2.8 M658.6,855.68 h-2.8 M77.76,862.91 h2.8 M658.6,862.91 h-2.8 M77.76,873.09 h2.8 M658.6,873.09 h-2.8 M77.76,890.5 h2.8 M658.6,890.5 h-2.8 M193.93,907.3 v-5.6 M193.93,502.6 v5.6 M310.1,907.3 v-5.6 M310.1,502.6 v5.6 M426.26,907.3 v-5.6 M426.26,502.6 v5.6 M542.43,907.3 v-5.6 M542.43,502.6 v5.6" stroke="#000" stroke-width="1.2" fill="none"/>
<rect x="77.76" y="502.6" width="580.84" height="404.7" fill="none" stroke="#000" stroke-width="1.4"/>
<text x="37.13" y="509" font-size="19.5" textLength="23.25" lengthAdjust="spacingAndGlyphs">10</text>
<text x="61.9" y="500.25" font-size="14" textLength="8.31" lengthAdjust="spacingAndGlyphs">0</text>
<text x="32.07" y="566.83" font-size="19.5" textLength="24.14" lengthAdjust="spacingAndGlyphs">10</text>
<text x="57.57" y="557.93" font-size="14" textLength="12.53" lengthAdjust="spacingAndGlyphs">-1</text>
<text x="32.07" y="624.66" font-size="19.5" textLength="24.14" lengthAdjust="spacingAndGlyphs">10</text>
<text x="57.52" y="615.76" font-size="14" textLength="13.42" lengthAdjust="spacingAndGlyphs">-2</text>
<text x="32.07" y="682.49" font-size="19.5" textLength="24.14" lengthAdjust="spacingAndGlyphs">10</text>
<text x="57.55" y="673.59" font-size="14" textLength="12.89" lengthAdjust="spacingAndGlyphs">-3</text>
<text x="32.07" y="740.32" font-size="19.5" textLength="24.14" lengthAdjust="spacingAndGlyphs">10</text>
<text x="57.55" y="731.42" font-size="14" textLength="12.77" lengthAdjust="spacingAndGlyphs">-4</text>
<text x="32.07" y="798.15" font-size="19.5" textLength="24.14" lengthAdjust="spacingAndGlyphs">10</text>
<text x="57.55" y="789.25" font-size="14" textLength="12.89" lengthAdjust="spacingAndGlyphs">-5</text>
<text x="32.07" y="855.98" font-size="19.5" textLength="24.14" lengthAdjust="spacingAndGlyphs">10</text>
<text x="57.55" y="847.08" font-size="14" textLength="12.89" lengthAdjust="spacingAndGlyphs">-6</text>
<text x="32.07" y="913.81" font-size="19.5" textLength="24.14" lengthAdjust="spacingAndGlyphs">10</text>
<text x="57.55" y="904.91" font-size="14" textLength="12.75" lengthAdjust="spacingAndGlyphs">-7</text>
<text x="62.25" y="927.9" font-size="19.5" textLength="29.39" lengthAdjust="spacingAndGlyphs">0.0</text>
<text x="178.15" y="927.9" font-size="19.5" textLength="29.62" lengthAdjust="spacingAndGlyphs">0.2</text>
<text x="294.24" y="927.9" font-size="19.5" textLength="30.01" lengthAdjust="spacingAndGlyphs">0.4</text>
<text x="410.44" y="927.9" font-size="19.5" textLength="29.93" lengthAdjust="spacingAndGlyphs">0.6</text>
<text x="526.35" y="927.9" font-size="19.5" textLength="29.61" lengthAdjust="spacingAndGlyphs">0.8</text>
<text x="642.11" y="927.9" font-size="19.5" textLength="29.55" lengthAdjust="spacingAndGlyphs">1.0</text>
<text x="259.42" y="953.5" font-size="19.5" textLength="215.45" lengthAdjust="spacingAndGlyphs">Liquid saturation (Sw)</text>
<text transform="translate(18.6,811.11) rotate(-90)" x="0" y="0" font-size="19.5" textLength="209.46" lengthAdjust="spacingAndGlyphs">Relative permeability</text>
<text x="123.45" y="536.81" font-size="40.43" textLength="11.12" lengthAdjust="spacingAndGlyphs" stroke="#000" stroke-width="0.8">(</text>
<text x="138.94" y="540.25" font-size="45.03" textLength="26.2" lengthAdjust="spacingAndGlyphs" stroke="#000" stroke-width="0.0">b</text>
<text x="169.66" y="536.81" font-size="40.43" textLength="11.27" lengthAdjust="spacingAndGlyphs" stroke="#000" stroke-width="0.8">)</text>
<rect x="458.9" y="745.4" width="189.3" height="151.4" fill="#fff" stroke="#000" stroke-width="1.2"/>
<g stroke="#000" stroke-width="0.8"><path d="M473.6,765.5 L469.4,757.1 L477.8,757.1 Z" fill="#00bfbf"/></g>
<g stroke="#000" stroke-width="0.8"><path d="M501.5,765.5 L497.3,757.1 L505.7,757.1 Z" fill="#00bfbf"/></g>
<text x="523.38" y="767.4" font-size="19.5" textLength="117.09" lengthAdjust="spacingAndGlyphs">0.5% Amph</text>
<g stroke="#000" stroke-width="0.8"><path d="M473.6,786.3 L469.4,794.7 L477.8,794.7 Z" fill="#bf00bf"/></g>
<g stroke="#000" stroke-width="0.8"><path d="M501.5,786.3 L497.3,794.7 L505.7,794.7 Z" fill="#bf00bf"/></g>
<text x="523.43" y="796.6" font-size="19.5" textLength="112.85" lengthAdjust="spacingAndGlyphs">0.03% AOS</text>
<g stroke="#000" stroke-width="0.8"><circle cx="473.6" cy="819.6" r="4.2" fill="#bfbf00"/></g>
<g stroke="#000" stroke-width="0.8"><circle cx="501.5" cy="819.6" r="4.2" fill="#bfbf00"/></g>
<text x="523.43" y="825.7" font-size="19.5" textLength="100.03" lengthAdjust="spacingAndGlyphs">0.1% AOS</text>
<g stroke="#000" stroke-width="0.8"><rect x="469.4" y="845.4" width="8.4" height="8.4" fill="#000000"/></g>
<g stroke="#000" stroke-width="0.8"><rect x="497.3" y="845.4" width="8.4" height="8.4" fill="#000000"/></g>
<text x="523.43" y="855.7" font-size="19.5" textLength="100.54" lengthAdjust="spacingAndGlyphs">0.5% AOS</text>
<g stroke="#000" stroke-width="0.8"><circle cx="473.6" cy="878.3" r="4.2" fill="#008000"/></g>
<g stroke="#000" stroke-width="0.8"><circle cx="501.5" cy="878.3" r="4.2" fill="#008000"/></g>
<text x="524.79" y="884.4" font-size="19.5" textLength="57.94" lengthAdjust="spacingAndGlyphs">Water</text>
</svg>
</body></html>
